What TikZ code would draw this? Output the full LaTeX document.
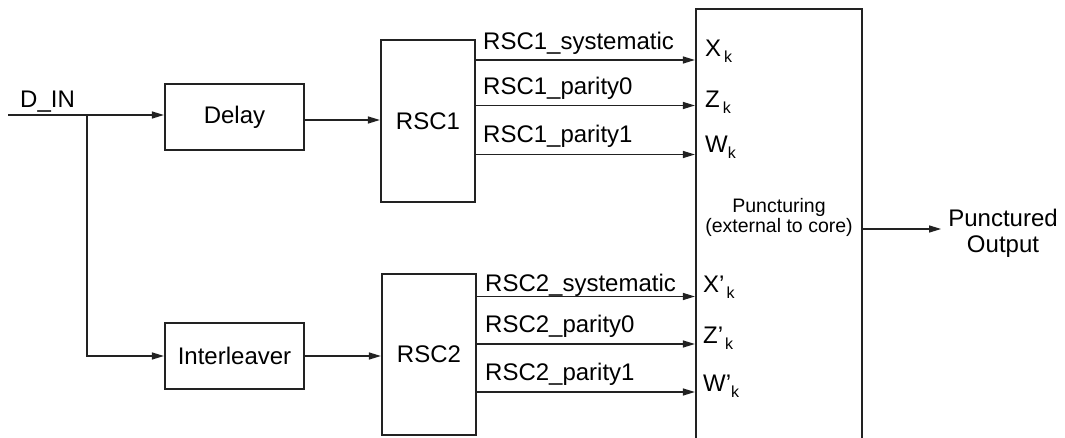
\documentclass[tikz,border=0pt]{standalone}
\usepackage{fontspec}
\setmainfont{Liberation Sans}
\usetikzlibrary{arrows.meta}
\definecolor{linec}{HTML}{222222}
\newcommand\subk{\raisebox{-6pt}{\fontsize{16}{16}\selectfont k}}
\begin{document}
\begin{tikzpicture}[x=1pt,y=-1pt,
  blk/.style={draw=linec, line width=2.2pt, inner sep=0pt, font=\fontsize{24}{28}\selectfont},
  wire/.style={draw=linec, line width=1.3pt},
  arr/.style={draw=linec, line width=1.3pt, -{Triangle[length=12pt,width=7pt]}},
  sig/.style={anchor=base west, inner sep=0pt, font=\fontsize{24}{28}\selectfont},
  txt/.style={inner sep=0pt, font=\fontsize{24}{28}\selectfont},
  small/.style={inner sep=0pt, anchor=base, font=\fontsize{19.5}{21}\selectfont}]
\useasboundingbox (0,0) rectangle (1065,438);
\clip (0,0) rectangle (1065,438);
\fill[white] (0,0) rectangle (1065,438);

% blocks
\node[blk, minimum width=139pt, minimum height=66pt] (delay) at (234.5,117) {Delay};
\node[blk, minimum width=139pt, minimum height=66pt] (intl) at (234.5,356) {Interleaver};
\node[blk, minimum width=94pt, minimum height=162pt] (rsc1) at (428,121) {RSC1};
\node[blk, minimum width=94pt, minimum height=161pt] (rsc2) at (429,354.5) {RSC2};
\node[blk, minimum width=166pt, minimum height=470pt] (punct) at (779,244) {};
\node[small] (p1) at (779,213) {Puncturing};
\node[small] (p2) at (779,233) {(external to core)};

% input
\node[txt, anchor=base west] (din) at (20,108) {D\_IN};
\coordinate (src) at (8,115);
\coordinate (br) at (87,115);
\draw[arr] (src) -- (delay.west |- src);
\draw[arr] (br) |- (intl.west);
\draw[arr] (delay.east |- 0,120) -- (rsc1.west |- 0,120);
\draw[arr] (intl.east) -- (rsc2.west |- intl.east);

% RSC1 outputs
\draw[arr] (rsc1.east |- 0,60) -- (punct.west |- 0,60);
\draw[arr] (rsc1.east |- 0,105.5) -- (punct.west |- 0,105.5);
\draw[arr] (rsc1.east |- 0,154.5) -- (punct.west |- 0,154.5);
\node[sig] (l1) at (483,50) {RSC1\_systematic};
\node[sig] (l2) at (483,95) {RSC1\_parity0};
\node[sig] (l3) at (483,143) {RSC1\_parity1};

% RSC2 outputs
\draw[arr] (rsc2.east |- 0,296.5) -- (punct.west |- 0,296.5);
\draw[arr] (rsc2.east |- 0,344) -- (punct.west |- 0,344);
\draw[arr] (rsc2.east |- 0,392) -- (punct.west |- 0,392);
\node[sig] (l4) at (485,291) {RSC2\_systematic};
\node[sig] (l5) at (485,332) {RSC2\_parity0};
\node[sig] (l6) at (485,380) {RSC2\_parity1};

% port labels
\node[sig] (xk) at (705,57) {X\kern3pt\subk};
\node[sig] (zk) at (705,108) {Z\kern3pt\subk};
\node[sig] (wk) at (705,153) {W\subk};
\node[sig] (xpk) at (703,292) {X’\kern2pt\subk};
\node[sig] (zpk) at (703,343) {Z’\kern2pt\subk};
\node[sig] (wpk) at (703,391) {W’\subk};

% output
\node[txt, align=center, anchor=base, font=\fontsize{24}{26}\selectfont] (out) at (1003,253) {Punctured\\Output};
\draw[arr] (punct.east |- 0,229) -- ([xshift=-7pt]out.west |- 0,229);
\end{tikzpicture}
\end{document}
